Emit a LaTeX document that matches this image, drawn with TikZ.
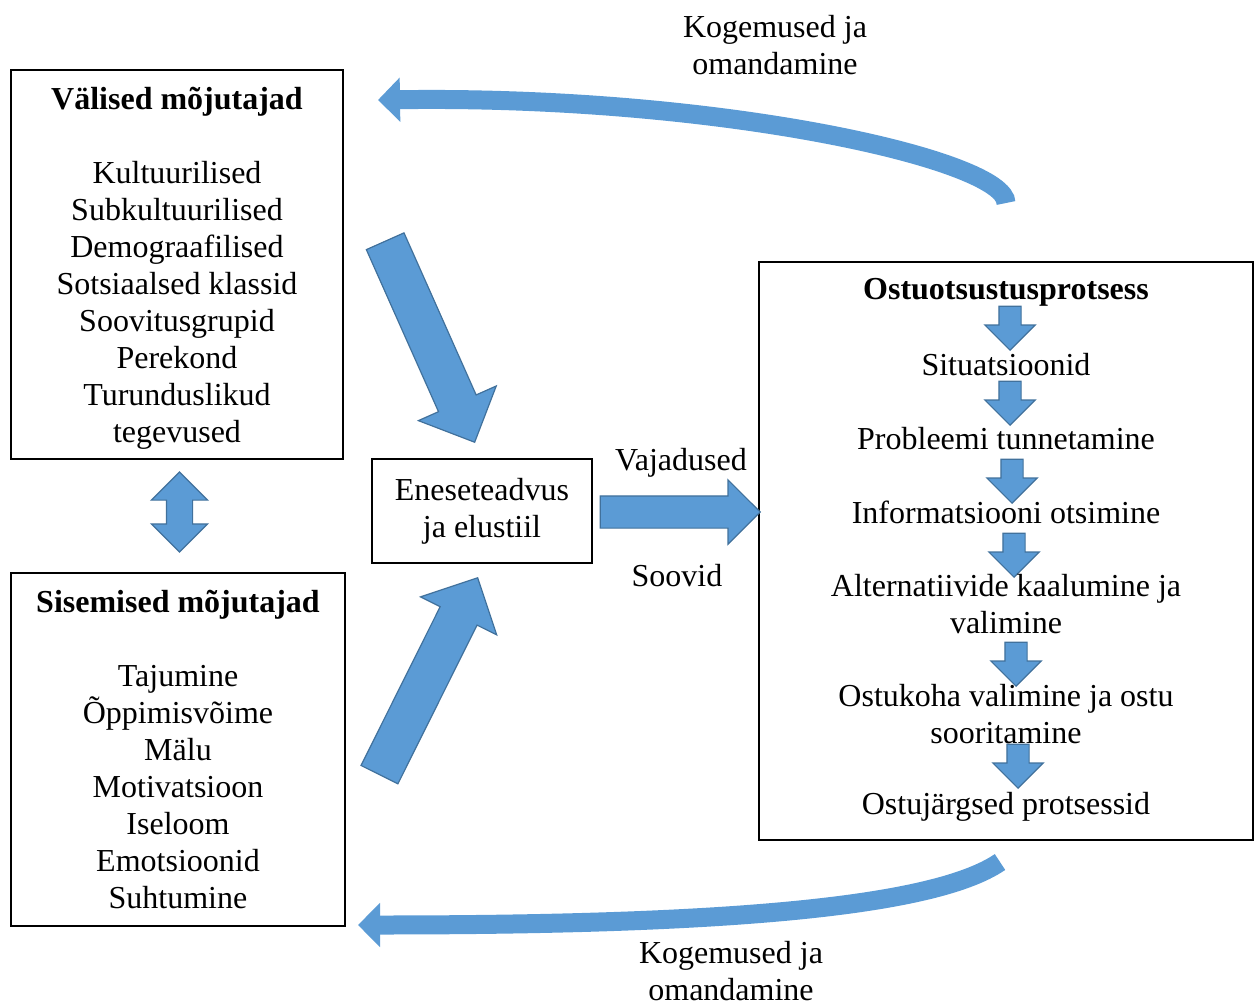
\documentclass[tikz,border=0pt]{standalone}
\usepackage{fontspec}
\setmainfont{Liberation Serif}
\usetikzlibrary{calc,positioning,shapes.arrows,arrows.meta}
\definecolor{omblue}{HTML}{5B9BD5}
\definecolor{omedge}{HTML}{41719C}
\tikzset{
	om_base/.style={font=\fontsize{16}{18.5}\selectfont, align=center, inner sep=0pt},
	om_box/.style={om_base, draw, rectangle, line width=0.75pt},
	om_head/.style={om_base, font=\fontsize{16}{18.5}\selectfont\bfseries, on grid},
	om_item/.style={om_base, on grid},
	om_arrow/.style={single arrow, draw=omedge, fill=omblue, line width=0.6pt, inner xsep=0pt, single arrow tip angle=90},
	om_down/.style={om_arrow, anchor=tip, inner ysep=5.25pt, minimum width=24.5pt, minimum height=22pt, single arrow head extend=7pt, rotate=-90},
	om_curve/.style={draw=omblue, line width=9.5pt, -{Triangle[width=21.5pt, length=11pt]}}
}
\begin{document}
\begin{tikzpicture}[x=0.5pt, y=-0.5pt]
	\useasboundingbox (0,0) rectangle (1259,1007);

	% influence boxes
	\node [om_box, minimum width=166pt, minimum height=194.5pt, text depth=-3pt] (external) at (177,264.5)
		{\textbf{Välised mõjutajad}\\[18.5pt]Kultuurilised\\Subkultuurilised\\Demograafilised\\Sotsiaalsed klassid\\Soovitusgrupid\\Perekond\\Turunduslikud\\tegevused};
	\node [om_box, minimum width=167pt, minimum height=176.5pt] (internal) at (178,749.5)
		{\textbf{Sisemised mõjutajad}\\[18.5pt]Tajumine\\Õppimisvõime\\Mälu\\Motivatsioon\\Iseloom\\Emotsioonid\\Suhtumine};
	\node [om_box, minimum width=110pt, minimum height=52pt] (self) at (482,511) {Eneseteadvus\\ja elustiil};
	\node [om_box, minimum width=247pt, minimum height=289pt] (process) at (1006,551) {};

	% block arrows
	\node [om_arrow, double arrow, double arrow tip angle=90, double arrow head extend=7.5pt, inner ysep=6.25pt, minimum width=27.5pt, minimum height=40pt, rotate=90] (mutual) at (179.5,512) {};
	\node [om_arrow, anchor=tip, inner ysep=10pt, minimum width=42pt, minimum height=110pt, single arrow head extend=11pt, rotate=-66] (extin) at (475,443) {};
	\node [om_arrow, anchor=tip, inner ysep=10pt, minimum width=42pt, minimum height=110pt, single arrow head extend=11pt, rotate=63.5] (intin) at (478,577) {};
	\node [om_arrow, anchor=tip, inner ysep=7.75pt, minimum width=31.5pt, minimum height=80pt, single arrow head extend=8pt] (needs) at (761,512) {};
	\node [om_item] (needs_up) at (681,463) {Vajadused};
	\node [om_item] (needs_down) at (677,576) {Soovid};

	% decision steps
	\foreach \x/\y [count=\i] in {1010/351, 1010/426, 1012/504, 1014/578, 1016/687, 1018/789}
		\node [om_down] (down\i) at (\x,\y) {};
	\node [om_head] (title) at (1006,292) {Ostuotsustusprotsess};
	\node [om_item, below = 36.5pt of title] (situation) {Situatsioonid};
	\node [om_item, below = 37pt of situation] (problem) {Probleemi tunnetamine};
	\node [om_item, below = 36.5pt of problem] (search) {Informatsiooni otsimine};
	\node [om_item, below = 46.25pt of search] (choice) {Alternatiivide kaalumine ja\\valimine};
	\node [om_item, below = 55pt of choice] (purchase) {Ostukoha valimine ja ostu\\sooritamine};
	\node [om_item, below = 46.25pt of purchase] (after) {Ostujärgsed protsessid};

	% feedback
	\coordinate (fb_top_start) at (1006,203);
	\coordinate (fb_top_end) at (378,100);
	\coordinate (fb_bot_start) at (1000,862);
	\coordinate (fb_bot_end) at (358,925);
	\draw [om_curve] (fb_top_start) .. controls (1006,160) and (720,95) .. (fb_top_end);
	\draw [om_curve] (fb_bot_start) .. controls (930,910) and (700,925) .. (fb_bot_end);
	\node [om_item] (fb_top_label) at (775,45) {Kogemused ja\\omandamine};
	\node [om_item] (fb_bot_label) at (731,971) {Kogemused ja\\omandamine};
\end{tikzpicture}
\end{document}
